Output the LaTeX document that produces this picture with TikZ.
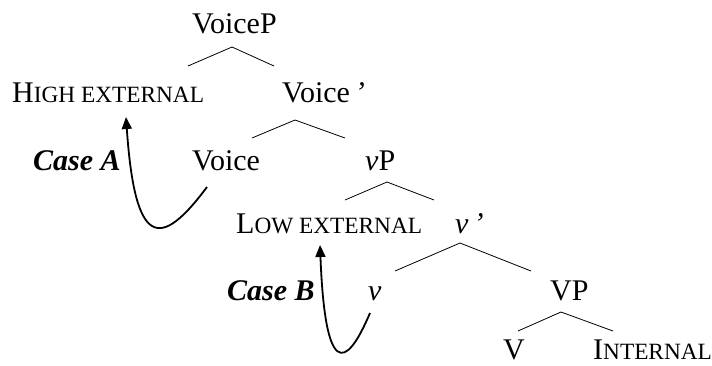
\documentclass[tikz,border=0pt]{standalone}
\usepackage{fontspec}
\setmainfont{Liberation Serif}
\usetikzlibrary{arrows.meta}
\newcommand{\fsc}[1]{{\fontsize{23.3}{26}\selectfont #1}}
\begin{document}
\begin{tikzpicture}[x=1pt,y=-1pt,
  lbl/.style={inner sep=0pt,anchor=base west,text depth=0pt,font=\fontsize{30}{34}\selectfont},
  branch/.style={line width=0.8pt},
  mover/.style={line width=1.8pt,-{Triangle[length=12pt,width=10pt]}}]
\useasboundingbox (0,0) rectangle (712,365);
% labels
\node[lbl] (voicep) at (192,33) {VoiceP};
\node[lbl] (high) at (12,102) {H\fsc{IGH EXTERNAL}};
\node[lbl] (voicebar) at (282,102) {Voice\,\textit{’}};
\node[lbl] (caseA) at (33,170) {\textbf{\textit{Case A}}};
\node[lbl] (voice) at (192,170) {Voice};
\node[lbl] (vp) at (365,170) {\textit{v}P};
\node[lbl] (low) at (236,233) {L\fsc{OW EXTERNAL}};
\node[lbl] (vbar) at (455,233) {\textit{v\,’}};
\node[lbl] (caseB) at (227,300) {\textbf{\textit{Case B}}};
\node[lbl] (v) at (368,300) {\textit{v}};
\node[lbl] (bigvp) at (550,300) {VP};
\node[lbl] (bigv) at (503,359) {V};
\node[lbl] (internal) at (593,359) {I\fsc{NTERNAL}};
% branch points
\coordinate (a1) at (232,47);  \coordinate (l1) at (188,66);  \coordinate (r1) at (274,66);
\coordinate (a2) at (295,120); \coordinate (l2) at (252,138); \coordinate (r2) at (345,138);
\coordinate (a3) at (387,182); \coordinate (l3) at (345,200); \coordinate (r3) at (434,200);
\coordinate (a4) at (460,243); \coordinate (l4) at (395,271); \coordinate (r4) at (531,271);
\coordinate (a5) at (561,312); \coordinate (l5) at (518,331); \coordinate (r5) at (613,331);
\foreach \i in {1,...,5}{\draw[branch] (l\i) -- (a\i) -- (r\i);}
% movement arrows
\coordinate (sA) at (207,187); \coordinate (tA) at (126,117);
\coordinate (sB) at (370,313); \coordinate (tB) at (320,245);
\draw[mover] (sA) .. controls (160,250) and (135,248) .. (tA);
\draw[mover] (sB) .. controls (345,372) and (325,375) .. (tB);
\end{tikzpicture}
\end{document}
